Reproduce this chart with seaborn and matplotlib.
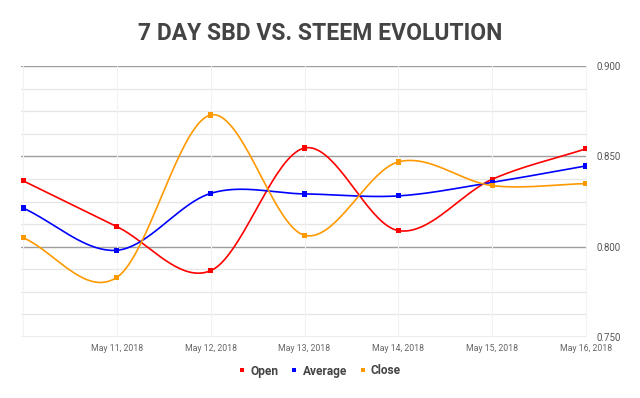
import numpy as np
import pandas as pd
import matplotlib
matplotlib.use("Agg")
import matplotlib.pyplot as plt
import seaborn as sns

dates = ["May 10, 2018", "May 11, 2018", "May 12, 2018", "May 13, 2018",
         "May 14, 2018", "May 15, 2018", "May 16, 2018"]
open_vals = [0.8365, 0.8111, 0.7867, 0.8546, 0.8089, 0.8373, 0.8542]
average_vals = [0.8214, 0.7980, 0.8295, 0.8292, 0.8281, 0.8356, 0.8447]
close_vals = [0.8050, 0.7830, 0.8729, 0.8063, 0.8469, 0.8338, 0.8349]

series = {"Open": open_vals, "Average": average_vals, "Close": close_vals}
colors = {"Open": "#ff0000", "Average": "#0000ff", "Close": "#ff9900"}


def smooth(y, n=40):
    # cubic hermite spline, catmull-rom style tangents (like google's curveType)
    y = np.asarray(y, dtype=float)
    k = len(y)
    m = np.zeros(k)
    m[1:-1] = (y[2:] - y[:-2]) / 2
    m[0] = y[1] - y[0]
    m[-1] = y[-1] - y[-2]
    xs, ys = [], []
    for i in range(k - 1):
        t = np.linspace(0, 1, n, endpoint=False)
        h00 = 2 * t**3 - 3 * t**2 + 1
        h10 = t**3 - 2 * t**2 + t
        h01 = -2 * t**3 + 3 * t**2
        h11 = t**3 - t**2
        xs.append(i + t)
        ys.append(h00 * y[i] + h10 * m[i] + h01 * y[i + 1] + h11 * m[i + 1])
    xs.append(np.array([k - 1.0]))
    ys.append(np.array([y[-1]]))
    return np.concatenate(xs), np.concatenate(ys)


points = pd.DataFrame([
    {"x": i, "value": v, "series": name}
    for name, vals in series.items() for i, v in enumerate(vals)
])
curves = []
for name, vals in series.items():
    cx, cy = smooth(vals)
    curves.append(pd.DataFrame({"x": cx, "value": cy, "series": name}))
curves = pd.concat(curves, ignore_index=True)

sns.set_style("white")
plt.rcParams["font.family"] = ["Roboto", "DejaVu Sans"]

fig = plt.figure(figsize=(6.4, 3.98), dpi=100)
ax = fig.add_axes([21 / 640, 1 - 337 / 398, 566 / 640, 271 / 398])

# grid
for v in np.arange(0.75, 0.9001, 0.0125):
    major = abs((v * 1000) % 50) < 1e-6 or abs((v * 1000) % 50 - 50) < 1e-6
    ax.axhline(v, color="#9e9e9e" if major else "#e6e6e6",
               lw=1.0 if major else 0.9, zorder=0)
for i in range(len(dates)):
    ax.axvline(i, color="#f2f2f2", lw=0.8, zorder=0)

sns.lineplot(data=curves, x="x", y="value", hue="series", palette=colors,
             ax=ax, lw=1.2, legend=False, sort=False, estimator=None)
sns.scatterplot(data=points, x="x", y="value", hue="series", palette=colors,
                marker="s", s=14, linewidth=0, ax=ax, zorder=5)

ax.set_xlim(-0.021, 6.01)
ax.set_ylim(0.75, 0.90)
ax.set_xticks(range(len(dates)))
ax.set_xticklabels([""] + dates[1:], fontsize=6.3, color="#666666")
ax.set_yticks([0.75, 0.80, 0.85, 0.90])
ax.set_yticklabels(["0.750", "0.800", "0.850", "0.900"], fontsize=7, color="#555555")
ax.yaxis.tick_right()
ax.tick_params(axis="both", length=0)
ax.tick_params(axis="x", pad=5)
ax.tick_params(axis="y", pad=7)
ax.set_xlabel("")
ax.set_ylabel("")
for s in ax.spines.values():
    s.set_visible(False)

handles, labels = ax.get_legend_handles_labels()
ax.get_legend().remove()
leg = fig.legend(handles, labels, loc="center", bbox_to_anchor=(0.5, 1 - 371 / 398),
                 ncol=3, frameon=False, handlelength=0.6, handletextpad=0.4,
                 columnspacing=1.0, markerscale=0.9,
                 prop={"weight": "bold", "size": 8.6})
for t in leg.get_texts():
    t.set_color("#444444")

fig.text(0.5, 1 - 34 / 398, "7 DAY SBD VS. STEEM EVOLUTION", ha="center", va="center",
         fontsize=16.5, fontweight="bold", color="#444444")

fig.savefig("out.png", dpi=100)
